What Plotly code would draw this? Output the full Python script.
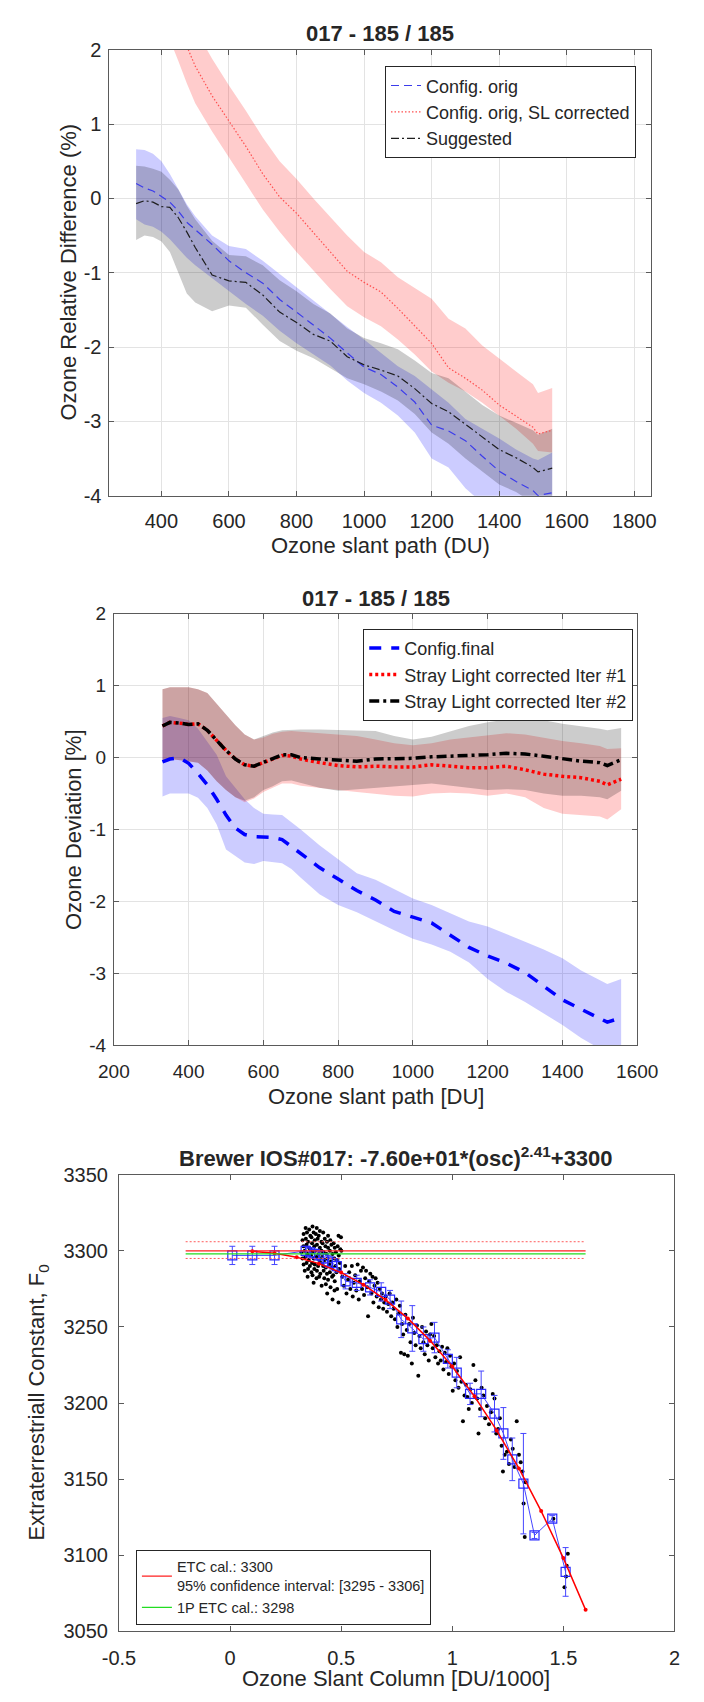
import plotly.graph_objects as go

W, H = 704, 1702
FONT = "Liberation Sans, Arial, Helvetica, sans-serif"
INK = "#262626"
AXIS = "#5a5a5a"
GRID = "#e3e3e3"

# ---------------- Panel 1: ozone relative difference vs slant path ----------------
P1_X = [325, 350, 375, 400, 425, 450, 475, 500, 550, 600, 650, 700, 750, 800, 850,
        900, 950, 1000, 1050, 1100, 1150, 1200, 1250, 1300, 1350, 1400, 1450, 1500, 1515, 1557]

ORIG_MID = [0.20, 0.14, 0.10, 0.03, -0.05, -0.17, -0.32, -0.42, -0.62, -0.84, -1.00, -1.14, -1.36, -1.53, -1.70,
            -1.88, -2.08, -2.27, -2.37, -2.54, -2.74, -3.05, -3.13, -3.26, -3.47, -3.67, -3.81, -3.93, -4.00, -3.96]
ORIG_HI = [0.66, 0.65, 0.60, 0.50, 0.33, 0.12, -0.08, -0.24, -0.50, -0.64, -0.68, -0.84, -1.02, -1.20, -1.37,
           -1.55, -1.73, -1.90, -2.08, -2.26, -2.39, -2.57, -2.75, -2.97, -3.10, -3.23, -3.38, -3.50, -3.52, -3.42]
ORIG_LO = [-0.28, -0.35, -0.38, -0.45, -0.55, -0.68, -0.80, -0.90, -1.08, -1.25, -1.42, -1.58, -1.78, -1.95, -2.10,
           -2.25, -2.45, -2.62, -2.75, -2.92, -3.15, -3.50, -3.62, -3.90, -4.10, -4.20, -4.30, -4.45, -4.50, -4.50]

SL_MID = [3.70, 3.45, 3.20, 2.95, 2.65, 2.35, 2.05, 1.78, 1.38, 1.04, 0.70, 0.33, 0.02, -0.20, -0.46,
          -0.72, -0.98, -1.13, -1.26, -1.48, -1.72, -1.95, -2.28, -2.42, -2.58, -2.78, -2.93, -3.08, -3.17, -3.12]
SL_HI = [4.20, 3.95, 3.70, 3.45, 3.15, 2.85, 2.55, 2.28, 1.88, 1.52, 1.18, 0.82, 0.50, 0.26, 0.00,
         -0.25, -0.50, -0.72, -0.86, -1.06, -1.20, -1.35, -1.62, -1.75, -1.98, -2.16, -2.33, -2.50, -2.62, -2.55]
SL_LO = [3.20, 2.95, 2.70, 2.45, 2.15, 1.85, 1.55, 1.28, 0.90, 0.55, 0.20, -0.15, -0.45, -0.72, -0.97,
         -1.22, -1.45, -1.60, -1.72, -1.90, -2.10, -2.33, -2.48, -2.60, -2.75, -2.92, -3.10, -3.30, -3.40, -3.42]

SUG_MID = [-0.07, -0.03, -0.05, -0.11, -0.12, -0.26, -0.45, -0.66, -1.03, -1.11, -1.13, -1.30, -1.53, -1.67, -1.83,
           -1.92, -2.13, -2.24, -2.31, -2.39, -2.56, -2.76, -2.87, -3.04, -3.22, -3.38, -3.49, -3.62, -3.68, -3.63]
SUG_HI = [0.44, 0.43, 0.40, 0.36, 0.25, 0.12, -0.10, -0.28, -0.57, -0.76, -0.78, -0.90, -1.10, -1.25, -1.42,
          -1.55, -1.75, -1.88, -1.95, -2.03, -2.18, -2.35, -2.42, -2.60, -2.78, -2.92, -3.02, -3.12, -3.18, -3.10]
SUG_LO = [-0.56, -0.50, -0.52, -0.58, -0.72, -1.00, -1.28, -1.40, -1.52, -1.44, -1.47, -1.70, -1.92, -2.05, -2.15,
          -2.28, -2.42, -2.50, -2.60, -2.72, -2.90, -3.15, -3.30, -3.50, -3.68, -3.85, -3.95, -4.10, -4.15, -4.15]

# ---------------- Panel 2: ozone deviation after stray-light iterations ----------------
P2_X = [330, 350, 375, 400, 425, 450, 475, 500, 525, 550, 575, 600, 625, 650, 675, 700, 750, 800,
        850, 900, 950, 1000, 1050, 1100, 1150, 1200, 1250, 1300, 1350, 1400, 1450, 1500, 1520, 1557]

FIN_MID = [-0.06, -0.02, 0.00, -0.08, -0.22, -0.38, -0.58, -0.80, -0.98, -1.07, -1.10, -1.10, -1.11, -1.14, -1.24, -1.34, -1.53, -1.69,
           -1.85, -1.98, -2.14, -2.22, -2.30, -2.47, -2.64, -2.76, -2.86, -2.99, -3.18, -3.37, -3.50, -3.62, -3.68, -3.62]
FIN_HI = [0.55, 0.58, 0.55, 0.52, 0.40, 0.22, 0.04, -0.26, -0.42, -0.58, -0.70, -0.78, -0.79, -0.80, -0.90, -1.00, -1.22, -1.42,
          -1.61, -1.70, -1.83, -1.96, -2.05, -2.16, -2.28, -2.35, -2.45, -2.56, -2.67, -2.79, -2.96, -3.10, -3.15, -3.08]
FIN_LO = [-0.54, -0.50, -0.50, -0.50, -0.56, -0.70, -0.93, -1.28, -1.37, -1.46, -1.48, -1.44, -1.45, -1.47, -1.55, -1.67, -1.90, -2.05,
          -2.15, -2.28, -2.40, -2.52, -2.60, -2.70, -2.85, -3.08, -3.26, -3.40, -3.56, -3.72, -3.90, -4.05, -4.08, -4.10]

IT1_MID = [0.44, 0.49, 0.48, 0.46, 0.47, 0.38, 0.24, 0.10, -0.02, -0.10, -0.12, -0.07, -0.02, 0.03, 0.02, -0.02, -0.07, -0.11,
           -0.13, -0.12, -0.13, -0.13, -0.10, -0.12, -0.14, -0.14, -0.12, -0.17, -0.23, -0.26, -0.28, -0.33, -0.38, -0.30]
IT1_HI = [0.95, 0.98, 0.98, 0.98, 0.95, 0.90, 0.75, 0.60, 0.45, 0.32, 0.25, 0.28, 0.33, 0.36, 0.37, 0.36, 0.34, 0.32,
          0.30, 0.25, 0.20, 0.17, 0.20, 0.25, 0.28, 0.32, 0.34, 0.32, 0.27, 0.23, 0.20, 0.16, 0.12, 0.13]
IT1_LO = [-0.05, -0.02, -0.03, -0.05, -0.07, -0.18, -0.33, -0.45, -0.55, -0.62, -0.57, -0.48, -0.42, -0.36, -0.36, -0.39, -0.42, -0.45,
          -0.48, -0.51, -0.53, -0.54, -0.50, -0.49, -0.50, -0.53, -0.50, -0.55, -0.70, -0.78, -0.80, -0.82, -0.86, -0.72]

IT2_MID = [0.44, 0.49, 0.48, 0.46, 0.47, 0.38, 0.24, 0.10, -0.02, -0.10, -0.12, -0.07, -0.02, 0.04, 0.04, 0.00, -0.02, -0.04,
           -0.05, -0.02, -0.02, -0.01, 0.01, 0.02, 0.02, 0.04, 0.06, 0.05, 0.02, -0.02, -0.05, -0.07, -0.11, -0.03]
IT2_HI = [0.95, 0.98, 0.98, 0.98, 0.95, 0.90, 0.75, 0.60, 0.45, 0.32, 0.25, 0.30, 0.35, 0.38, 0.39, 0.39, 0.39, 0.38,
          0.38, 0.37, 0.30, 0.25, 0.29, 0.37, 0.44, 0.49, 0.53, 0.54, 0.52, 0.47, 0.44, 0.40, 0.38, 0.41]
IT2_LO = [-0.05, -0.02, -0.03, -0.05, -0.07, -0.18, -0.33, -0.45, -0.55, -0.60, -0.55, -0.45, -0.40, -0.33, -0.32, -0.35, -0.42, -0.46,
          -0.45, -0.42, -0.40, -0.38, -0.36, -0.38, -0.42, -0.45, -0.44, -0.45, -0.50, -0.53, -0.53, -0.55, -0.58, -0.46]

# ---------------- Panel 3: ETC fit against ozone slant column ----------------
DOT_X = [0.340, 0.356, 0.371, 0.390, 0.404,
         0.331, 0.346, 0.361, 0.376, 0.386, 0.399, 0.419, 0.441, 0.488,
         0.326, 0.341, 0.351, 0.366, 0.381, 0.394, 0.411, 0.426, 0.436, 0.451, 0.466, 0.499,
         0.330, 0.344, 0.356, 0.369, 0.379, 0.391, 0.404, 0.416, 0.429, 0.441, 0.456, 0.471, 0.484, 0.496,
         0.321, 0.336, 0.349, 0.361, 0.371, 0.384, 0.399, 0.411, 0.421, 0.434, 0.449, 0.461, 0.476, 0.489, 0.501,
         0.326, 0.339, 0.354, 0.364, 0.376, 0.389, 0.401, 0.414, 0.426, 0.439, 0.454, 0.469, 0.481, 0.494,
         0.331, 0.344, 0.359, 0.369, 0.381, 0.396, 0.409, 0.419, 0.431, 0.446, 0.459, 0.474, 0.491,
         0.336, 0.351, 0.366, 0.379, 0.391, 0.406, 0.421, 0.436, 0.449, 0.464, 0.479,
         0.349, 0.371, 0.389, 0.401, 0.424, 0.441, 0.459, 0.471,
         0.376, 0.412, 0.431, 0.452, 0.482,
         0.437, 0.461, 0.488, 0.470,
         0.505, 0.512, 0.518, 0.524, 0.531, 0.536, 0.541, 0.548, 0.552, 0.557, 0.563, 0.568, 0.574, 0.579, 0.584,
         0.589, 0.594, 0.598, 0.603, 0.608, 0.612, 0.617, 0.621, 0.626, 0.631, 0.636, 0.641, 0.645, 0.650, 0.655,
         0.660, 0.664, 0.669, 0.674, 0.679, 0.684, 0.689, 0.694, 0.700, 0.706, 0.712, 0.718, 0.725, 0.730,
         0.736, 0.742, 0.748, 0.753, 0.758, 0.764, 0.769, 0.774, 0.779, 0.784, 0.789, 0.795, 0.800, 0.806, 0.812,
         0.818, 0.823, 0.829, 0.835, 0.841, 0.847, 0.852, 0.858, 0.864, 0.870, 0.876, 0.882, 0.888, 0.894, 0.900,
         0.906, 0.912, 0.918, 0.924, 0.930, 0.936, 0.942, 0.948, 0.954, 0.960, 0.966, 0.972, 0.978, 0.984, 0.990,
         0.996, 1.002, 1.008, 1.014,
         1.021, 1.028, 1.035, 1.041, 1.048, 1.055, 1.061, 1.068, 1.074, 1.081, 1.088, 1.095, 1.104, 1.112, 1.118,
         1.125, 1.132, 1.140, 1.148, 1.156, 1.165, 1.174, 1.182, 1.190, 1.198, 1.206, 1.214, 1.222, 1.228, 1.236,
         1.246, 1.255, 1.264, 1.272, 1.280, 1.290, 1.300, 1.308, 1.316, 1.321, 1.326, 1.330,
         1.455, 1.505, 1.515, 1.520, 1.512]
DOT_Y = [3315, 3314, 3316, 3315, 3313,
         3311, 3312, 3310, 3312, 3311, 3310, 3312, 3310, 3310,
         3307, 3308, 3306, 3309, 3307, 3308, 3306, 3308, 3306, 3307, 3305, 3309,
         3303, 3304, 3302, 3305, 3303, 3304, 3302, 3305, 3303, 3302, 3304, 3302, 3303, 3301,
         3299, 3300, 3298, 3301, 3299, 3300, 3298, 3300, 3299, 3298, 3300, 3298, 3299, 3297, 3300,
         3295, 3296, 3294, 3297, 3295, 3296, 3294, 3296, 3294, 3295, 3293, 3295, 3294, 3292,
         3291, 3292, 3290, 3292, 3291, 3290, 3292, 3290, 3289, 3291, 3289, 3290, 3288,
         3287, 3288, 3286, 3288, 3287, 3285, 3287, 3285, 3286, 3284, 3286,
         3283, 3284, 3282, 3283, 3282, 3281, 3283, 3280,
         3279, 3277, 3278, 3276, 3275,
         3272, 3268, 3266, 3274,
         3283, 3277, 3290, 3272, 3281, 3286, 3275, 3290, 3270, 3279, 3284, 3274, 3291, 3268, 3280,
         3287, 3275, 3289, 3271, 3282, 3287, 3276, 3257, 3280, 3285, 3272, 3283, 3266, 3277, 3282,
         3270, 3279, 3263, 3275, 3268, 3272, 3262, 3266, 3270, 3260, 3265, 3272, 3257, 3266,
         3262, 3255, 3268, 3250, 3259, 3264, 3233, 3252, 3245, 3232, 3258, 3248, 3231, 3252, 3240,
         3226, 3256, 3246, 3238, 3251, 3218, 3244, 3236, 3250, 3240, 3232, 3247, 3238, 3228, 3245,
         3252, 3236, 3244, 3230, 3238, 3226, 3234, 3228, 3237, 3222, 3233, 3227, 3236, 3219, 3231,
         3224, 3208, 3226, 3215,
         3221, 3210, 3230, 3214, 3188, 3205, 3212, 3204, 3196, 3209, 3200, 3225, 3215, 3203, 3180,
         3196, 3210, 3205, 3190, 3198, 3186, 3194, 3206, 3203, 3180, 3183, 3190, 3172, 3155, 3166,
         3168, 3160, 3176, 3170, 3158, 3188, 3166, 3161, 3155, 3134, 3112, 3148,
         3124, 3079, 3093, 3101, 3086]

BIN_X = [0.01, 0.10, 0.20, 0.34, 0.36, 0.38, 0.40, 0.42, 0.44, 0.46, 0.48, 0.52, 0.57, 0.63, 0.68, 0.72,
         0.77, 0.82, 0.87, 0.92, 0.98, 1.02, 1.08, 1.13, 1.19, 1.23, 1.27, 1.32, 1.37, 1.45, 1.51]
BIN_Y = [3297, 3297, 3297, 3300, 3299, 3298, 3297, 3295, 3293, 3292, 3290, 3280, 3279, 3276, 3273, 3268,
         3255, 3249, 3242, 3243, 3229, 3220, 3206, 3206, 3193, 3180, 3163, 3147, 3113, 3124, 3089]
BIN_ERR = [6, 6, 6, 3, 3, 3, 3, 3, 4, 4, 4, 5, 5, 5, 6, 6,
           12, 15, 8, 10, 6, 10, 7, 15, 12, 17, 14, 33, 2, 2, 16]

FIT_X = [0.1, 0.2, 0.3, 0.4, 0.5, 0.6, 0.7, 0.8, 0.9, 1.0, 1.1, 1.2, 1.3, 1.4, 1.5, 1.6]
FIT_Y = [3299.7, 3298.4, 3295.8, 3291.6, 3285.7, 3277.8, 3267.8, 3255.6, 3241.0, 3224.0,
         3204.4, 3182.0, 3157.0, 3129.0, 3098.1, 3064.1]

ETC_SPAN = [-0.2, 1.6]
ETC_CAL = 3300
ETC_CI = [3295, 3306]
ETC_1P = 3298


def px(x):
    return x / W


def py(y):
    return 1 - y / H


fig = go.Figure()


def band(x, lo, hi, color, xa, ya):
    fig.add_trace(go.Scatter(
        x=list(x) + list(x)[::-1], y=list(hi) + list(lo)[::-1],
        fill="toself", fillcolor=color, line=dict(width=0), mode="lines",
        hoverinfo="skip", showlegend=False, xaxis=xa, yaxis=ya))


# panel 1
band(P1_X, ORIG_LO, ORIG_HI, "rgba(0,0,255,0.2)", "x", "y")
band(P1_X, SL_LO, SL_HI, "rgba(255,0,0,0.2)", "x", "y")
band(P1_X, SUG_LO, SUG_HI, "rgba(0,0,0,0.2)", "x", "y")
fig.add_trace(go.Scatter(x=P1_X, y=ORIG_MID, mode="lines", name="Config. orig",
                         line=dict(color="rgb(60,60,235)", width=1.2, dash="8px,5px"),
                         xaxis="x", yaxis="y", legend="legend"))
fig.add_trace(go.Scatter(x=P1_X, y=SL_MID, mode="lines", name="Config. orig, SL corrected",
                         line=dict(color="rgb(255,80,80)", width=1.2, dash="1.5px,2px"),
                         xaxis="x", yaxis="y", legend="legend"))
fig.add_trace(go.Scatter(x=P1_X, y=SUG_MID, mode="lines", name="Suggested",
                         line=dict(color="rgb(30,30,30)", width=1.2, dash="8px,3px,2px,3px"),
                         xaxis="x", yaxis="y", legend="legend"))

# panel 2
band(P2_X, FIN_LO, FIN_HI, "rgba(0,0,255,0.2)", "x2", "y2")
band(P2_X, IT1_LO, IT1_HI, "rgba(255,0,0,0.2)", "x2", "y2")
band(P2_X, IT2_LO, IT2_HI, "rgba(0,0,0,0.2)", "x2", "y2")
fig.add_trace(go.Scatter(x=P2_X, y=FIN_MID, mode="lines", name="Config.final",
                         line=dict(color="#0000ff", width=3.5, dash="12px,10px"),
                         xaxis="x2", yaxis="y2", legend="legend2"))
fig.add_trace(go.Scatter(x=P2_X, y=IT1_MID, mode="lines", name="Stray Light corrected Iter #1",
                         line=dict(color="#ff0000", width=3.5, dash="3px,3px"),
                         xaxis="x2", yaxis="y2", legend="legend2"))
fig.add_trace(go.Scatter(x=P2_X, y=IT2_MID, mode="lines", name="Stray Light corrected Iter #2",
                         line=dict(color="#000000", width=3.5, dash="10px,4px,3px,4px"),
                         xaxis="x2", yaxis="y2", legend="legend2"))

# panel 3
fig.add_trace(go.Scatter(x=DOT_X, y=DOT_Y, mode="markers",
                         marker=dict(color="black", size=4), showlegend=False,
                         xaxis="x3", yaxis="y3"))
fig.add_trace(go.Scatter(x=BIN_X, y=BIN_Y, mode="lines+markers",
                         line=dict(color="rgb(70,70,255)", width=1),
                         marker=dict(symbol="square-open", size=9, color="rgb(40,40,255)",
                                     line=dict(width=1.2)),
                         error_y=dict(type="data", array=BIN_ERR, color="rgb(70,70,255)",
                                      thickness=1, width=3),
                         showlegend=False, xaxis="x3", yaxis="y3"))
fig.add_trace(go.Scatter(x=FIT_X, y=FIT_Y, mode="lines+markers",
                         line=dict(color="#ff0000", width=1.5),
                         marker=dict(color="#ff0000", size=4), showlegend=False,
                         xaxis="x3", yaxis="y3"))
for ci in ETC_CI:
    fig.add_trace(go.Scatter(x=ETC_SPAN, y=[ci, ci], mode="lines",
                             line=dict(color="rgb(255,90,90)", width=1, dash="2px,2px"),
                             showlegend=False, xaxis="x3", yaxis="y3"))
fig.add_trace(go.Scatter(x=ETC_SPAN, y=[ETC_CAL, ETC_CAL], mode="lines",
                         name="ETC cal.: %d<br>95%% confidence interval: [%d - %d]" % (ETC_CAL, ETC_CI[0], ETC_CI[1]),
                         line=dict(color="#ff2020", width=1.3),
                         xaxis="x3", yaxis="y3", legend="legend3"))
fig.add_trace(go.Scatter(x=ETC_SPAN, y=[ETC_1P, ETC_1P], mode="lines",
                         name="1P ETC cal.: %d" % ETC_1P,
                         line=dict(color="#22dd22", width=1.3),
                         xaxis="x3", yaxis="y3", legend="legend3"))


def axis(domain, rng, tickvals, ticktext, anchor, grid, size=20, standoff=0):
    return dict(domain=domain, range=rng, tickvals=tickvals, ticktext=ticktext, anchor=anchor,
                showgrid=grid, gridcolor=GRID, gridwidth=1, zeroline=False,
                showline=True, linecolor=AXIS, linewidth=1, mirror="ticks",
                ticks="inside", ticklen=5, tickcolor=AXIS,
                ticklabelstandoff=standoff,
                tickfont=dict(family=FONT, size=size, color=INK))


x1 = [400, 600, 800, 1000, 1200, 1400, 1600, 1800]
y1 = [-4, -3, -2, -1, 0, 1, 2]
x2 = [200, 400, 600, 800, 1000, 1200, 1400, 1600]
x3 = [-0.5, 0, 0.5, 1, 1.5, 2]
y3 = [3050, 3100, 3150, 3200, 3250, 3300, 3350]

fig.update_layout(
    width=W, height=H, margin=dict(l=0, r=0, t=0, b=0),
    paper_bgcolor="white", plot_bgcolor="white",
    font=dict(family=FONT, color=INK),
    xaxis=axis([px(97.7), px(670)], [246, 1849], x1, [str(v) for v in x1], "y", True, 20, 7),
    yaxis=axis([py(491), py(39.3)], [-4, 2], y1, [str(v) for v in y1], "x", True, 20, 3),
    xaxis2=axis([px(102.4), px(655.6)], [200, 1600], x2, [str(v) for v in x2], "y2", True, 19, 9),
    yaxis2=axis([py(1047.7), py(610.7)], [-4, 2], y1, [str(v) for v in y1], "x2", True, 19, 3),
    xaxis3=axis([px(107.8), px(695)], [-0.5, 2], x3, ["-0.5", "0", "0.5", "1", "1.5", "2"], "y3", False, 20, 9),
    yaxis3=axis([py(1641.5), py(1179)], [3050, 3350], y3, [str(v) for v in y3], "x3", False, 20, 6),
    legend=dict(x=px(389), y=py(56), xanchor="left", yanchor="top",
                bgcolor="white", bordercolor="#262626", borderwidth=1,
                font=dict(family=FONT, size=18, color=INK), tracegroupgap=0),
    legend2=dict(x=px(366), y=py(626), xanchor="left", yanchor="top",
                 bgcolor="white", bordercolor="#262626", borderwidth=1,
                 font=dict(family=FONT, size=18, color=INK), tracegroupgap=0),
    legend3=dict(x=px(125.7), y=py(1559), xanchor="left", yanchor="top",
                 bgcolor="white", bordercolor="#262626", borderwidth=1,
                 font=dict(family=FONT, size=14.5, color=INK), tracegroupgap=0),
    showlegend=True,
)

labels = [
    ("<b>017 - 185 / 185</b>", 384, 23, 22, 0),
    ("<b>017 - 185 / 185</b>", 379, 595, 22, 0),
    ("<b>Brewer IOS#017: -7.60e+01*(osc)<sup>2.41</sup>+3300</b>", 401, 1161, 22, 0),
    ("Ozone slant path (DU)", 384, 542, 22, 0),
    ("Ozone slant path [DU]", 379, 1100, 22, 0),
    ("Ozone Slant Column [DU/1000]", 401, 1689, 22, 0),
    ("Ozone Relative Difference (%)", 55, 265, 22, -90),
    ("Ozone Deviation [%]", 60, 829, 22, -90),
    ("Extraterrestriall Constant, F<sub>0</sub>", 22, 1410, 22, -90),
]
for text, x, y, size, ang in labels:
    fig.add_annotation(text=text, x=px(x), y=py(y), xref="paper", yref="paper",
                       showarrow=False, xanchor="center", yanchor="middle", textangle=ang,
                       font=dict(family=FONT, size=size, color=INK))

fig.write_html("out.html")
